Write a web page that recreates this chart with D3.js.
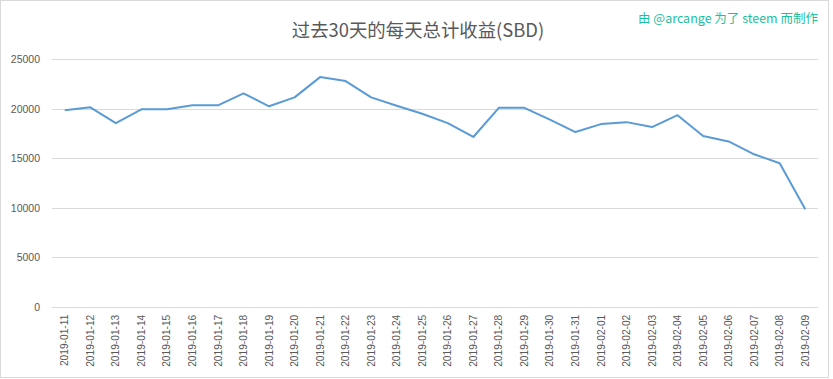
<!DOCTYPE html>
<html><head><meta charset="utf-8">
<script src="https://cdn.jsdelivr.net/npm/d3@7"></script>
<style>
html,body{margin:0;padding:0;background:#fff;}
svg{display:block;}
</style></head>
<body>
<svg id="chart" width="833" height="379"></svg>
<script>
const dates = ["2019-01-11","2019-01-12","2019-01-13","2019-01-14","2019-01-15","2019-01-16","2019-01-17","2019-01-18","2019-01-19","2019-01-20","2019-01-21","2019-01-22","2019-01-23","2019-01-24","2019-01-25","2019-01-26","2019-01-27","2019-01-28","2019-01-29","2019-01-30","2019-01-31","2019-02-01","2019-02-02","2019-02-03","2019-02-04","2019-02-05","2019-02-06","2019-02-07","2019-02-08","2019-02-09"];
const payouts = [19850,20150,18550,19950,19950,20350,20350,21550,20250,21150,23200,22800,21150,20300,19500,18550,17150,20100,20100,18900,17650,18450,18650,18150,19350,17250,16700,15400,14500,9850];
const yTicks = [0,5000,10000,15000,20000,25000];
const titleText = "过去30天的每天总计收益(SBD)";
const creditText = "由 @arcange 为了 steem 而制作";

const svg = d3.select("#chart");
const W = 833, H = 379;
const mLeft = 52, mRight = 818, mTop = 59.3, mBottom = 306.7;

svg.append("rect").attr("x",0.5).attr("y",0.5).attr("width",W-5).attr("height",H-2)
  .attr("fill","#fff").attr("stroke","#d9d9d9");

const x = d3.scaleBand().domain(dates).range([mLeft,mRight]);
const y = d3.scaleLinear().domain([0,25000]).range([mBottom,mTop]);

// gridlines
svg.append("g").selectAll("line").data(yTicks).join("line")
  .attr("x1",mLeft).attr("x2",mRight)
  .attr("y1",d=>Math.round(y(d))+0.5).attr("y2",d=>Math.round(y(d))+0.5)
  .attr("stroke","#d9d9d9").attr("stroke-width",1);

// y axis labels
const yAxis = d3.axisLeft(y).tickValues(yTicks).tickSize(0).tickPadding(0).tickFormat(d3.format("d"));
const gy = svg.append("g").attr("transform",`translate(40,0)`).call(yAxis);
gy.select(".domain").remove();
gy.selectAll("text").attr("fill","#595959").style("font-family","'Liberation Sans',Arial,sans-serif").style("font-size","10.5px");

// x axis labels
const xAxis = d3.axisBottom(x).tickSize(0).tickPadding(0);
const gx = svg.append("g").attr("transform",`translate(0,${mBottom})`).call(xAxis);
gx.select(".domain").remove();
gx.selectAll("text")
  .attr("fill","#595959")
  .style("font-family","'Liberation Sans',Arial,sans-serif").style("font-size","10.2px")
  .attr("text-anchor","end").attr("dy","0.35em")
  .attr("transform","translate(0,8) rotate(-90)").attr("x",0).attr("y",0);

// line
const line = d3.line().x((d,i)=>x(dates[i])+x.bandwidth()/2).y(d=>y(d));
svg.append("path").datum(payouts).attr("d",line)
  .attr("fill","none").attr("stroke","#5b9bd5").attr("stroke-width",2).attr("stroke-linejoin","round");

// title
svg.append("text").attr("x",418).attr("y",37).attr("text-anchor","middle")
  .attr("fill","#595959").style("font-family","'Noto Sans CJK SC',sans-serif").style("font-size","18.4px")
  .text(titleText);

svg.append("text").attr("x",818).attr("y",23).attr("text-anchor","end")
  .attr("fill","#1cc0a0").style("font-family","'Noto Sans CJK SC',sans-serif").style("font-size","12.5px")
  .text(creditText);
</script>
</body></html>
